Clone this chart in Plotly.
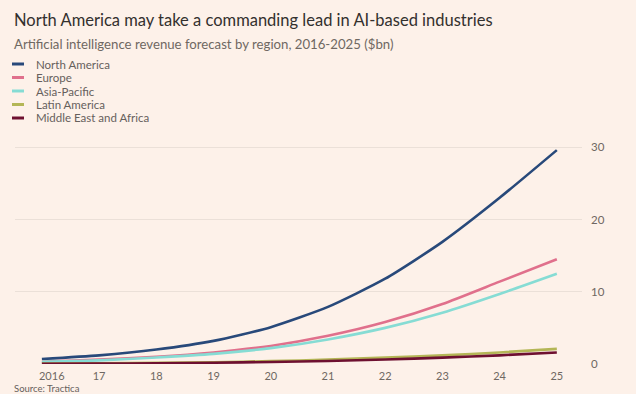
import plotly.graph_objects as go

years = [2016, 2017, 2018, 2019, 2020, 2021, 2022, 2023, 2024, 2025]
x_tick_labels = ["\u00a0\u00a0\u00a0\u00a0\u00a0\u00a0\u00a02016", "17", "18", "19", "20", "21", "22", "23", "24", "25"]
north_america = [0.7, 1.2, 2.0, 3.2, 5.1, 7.9, 11.8, 16.9, 23.0, 29.6]
europe = [0.3, 0.6, 1.0, 1.6, 2.5, 3.9, 5.8, 8.3, 11.4, 14.5]
asia_pacific = [0.3, 0.5, 0.9, 1.4, 2.2, 3.4, 5.0, 7.1, 9.7, 12.5]
latin_america = [0.05, 0.1, 0.15, 0.25, 0.4, 0.6, 0.9, 1.2, 1.6, 2.1]
middle_east_africa = [0.03, 0.06, 0.1, 0.18, 0.28, 0.42, 0.62, 0.88, 1.2, 1.6]
y_ticks = [0, 10, 20, 30]

series_names = ["North America", "Europe", "Asia-Pacific", "Latin America", "Middle East and Africa"]
series_values = [north_america, europe, asia_pacific, latin_america, middle_east_africa]
series_colors = ["#28497a", "#e0708c", "#86dcd4", "#b4b656", "#6e1030"]

W, H = 636, 394
ML, MR, MT, MB = 15, 54, 140, 30
PW, PH = W - ML - MR, H - MT - MB

fig = go.Figure()
for name, vals, color in zip(series_names, series_values, series_colors):
    fig.add_trace(go.Scatter(
        x=years, y=vals, mode="lines", name=name, showlegend=False,
        line=dict(color=color, width=2.6, shape="spline", smoothing=0.6),
    ))

bg = "#fdf1e9"
fig.update_layout(
    width=W, height=H,
    paper_bgcolor=bg, plot_bgcolor=bg,
    margin=dict(l=ML, r=MR, t=MT, b=MB, autoexpand=False),
    font=dict(family="Lato, 'Open Sans', sans-serif", color="#66605c"),
    showlegend=False,
)


def px_x(px):
    return (px - ML) / PW


def px_y(py):
    return (H - MB - py) / PH


fig.add_annotation(
    text="North America may take a commanding lead in AI-based industries",
    xref="paper", yref="paper", x=px_x(12), y=px_y(20),
    xanchor="left", yanchor="middle", showarrow=False,
    font=dict(size=16.5, color="#33302e"),
)
fig.add_annotation(
    text="Artificial intelligence revenue forecast by region, 2016-2025 ($bn)",
    xref="paper", yref="paper", x=px_x(12), y=px_y(44),
    xanchor="left", yanchor="middle", showarrow=False,
    font=dict(size=13.2, color="#6f6862"),
)
fig.add_annotation(
    text="Source: Tractica",
    xref="paper", yref="paper", x=px_x(12), y=px_y(388.5),
    xanchor="left", yanchor="middle", showarrow=False,
    font=dict(size=9.5, color="#66605c"),
)

# Legend (manual, compact FT style)
legend_y0 = 64
legend_dy = 13.5
for i, (name, color) in enumerate(zip(series_names, series_colors)):
    yy = legend_y0 + i * legend_dy
    fig.add_shape(
        type="line", xref="paper", yref="paper",
        x0=px_x(12), x1=px_x(24), y0=px_y(yy), y1=px_y(yy),
        line=dict(color=color, width=3),
    )
    fig.add_annotation(
        text=name, xref="paper", yref="paper", x=px_x(34), y=px_y(yy),
        xanchor="left", yanchor="middle", showarrow=False,
        font=dict(size=11.5, color="#66605c"),
    )

fig.update_xaxes(
    range=[2015.53, 2025.44], tickmode="array", tickvals=years, ticktext=x_tick_labels,
    showgrid=False, zeroline=False, showline=False, ticks="", automargin=False,
    tickfont=dict(size=11, color="#6f6862"), ticklabelstandoff=4,
)
fig.update_yaxes(
    range=[0, 31], side="right", tickvals=y_ticks, showgrid=True, automargin=False,
    gridcolor="#ebe0d8", gridwidth=1, zeroline=False, showline=False, ticks="",
    tickfont=dict(size=11.5, color="#6f6862"), ticklabelstandoff=8,
)

fig.write_html(
    "out.html",
    config={"displayModeBar": False},
    post_script="document.body.style.margin='0';",
)
